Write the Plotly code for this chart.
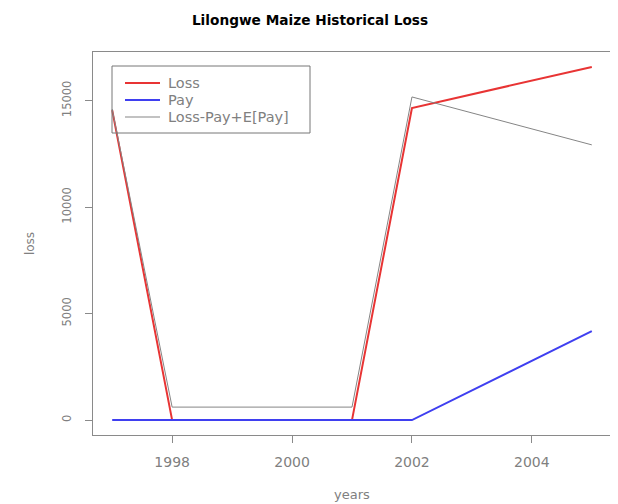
import plotly.graph_objects as go

years = [1997, 1998, 2001, 2002, 2005]
loss = [14550, 0, 0, 14650, 16580]
pay = [0, 0, 0, 0, 4180]
adj = [14600, 610, 610, 15170, 12920]

x_ticks = [1998, 2000, 2002, 2004]
y_ticks = [0, 5000, 10000, 15000]
y_tick_text = ["0", "5000", "10000", "15000"]

series_names = ["Loss", "Pay", "Loss-Pay+E[Pay]"]
series_colors = ["#e83434", "#3f3ff0", "#858585"]
series_widths = [2, 2, 1]

FONT = "DejaVu Sans"
GREY = "#808080"

# page has an 8px body margin; work in page pixels and compensate
OFF = 8
W, H = 618 - OFF, 504 - OFF
L, R, T, B = 93, 611, 52, 435  # plot area in page pixels


def px(xp):
    return (xp - L) / (R - L)


def py(yp):
    return (B - yp) / (B - T)


fig = go.Figure()
for name, vals, col, w in zip(series_names, [loss, pay, adj], series_colors, series_widths):
    fig.add_trace(go.Scatter(x=years, y=vals, mode="lines", name=name,
                             line=dict(color=col, width=w), showlegend=False))

axis_common = dict(showline=True, mirror=True, linecolor="#8a8a8a", linewidth=1,
                   ticks="outside", ticklen=7, tickcolor="#8a8a8a",
                   showgrid=False, zeroline=False, automargin=False)

shapes = [dict(type="rect", xref="paper", yref="paper",
               x0=px(112), x1=px(310), y0=py(66), y1=py(133),
               line=dict(color="#777777", width=1))]
annotations = []
legend_rows = [83, 100, 117]
for name, col, w, yy in zip(series_names, series_colors, series_widths, legend_rows):
    shapes.append(dict(type="line", xref="paper", yref="paper",
                       x0=px(125), x1=px(160), y0=py(yy), y1=py(yy),
                       line=dict(color=col, width=w)))
    annotations.append(dict(text=name, xref="paper", yref="paper",
                            x=px(166), y=py(yy), xanchor="left", yanchor="middle",
                            showarrow=False,
                            font=dict(family=FONT, size=14.5, color=GREY)))

fig.update_layout(
    width=W, height=H,
    margin=dict(l=L - OFF, r=W - (R - OFF), t=T - OFF, b=H - (B - OFF)),
    paper_bgcolor="white", plot_bgcolor="white",
    title=dict(text="<b>Lilongwe Maize Historical Loss</b>",
               x=(310 - OFF) / W, xanchor="center", xref="container",
               y=1 - (20 - OFF) / H, yanchor="middle",
               font=dict(family=FONT, size=13.7, color="black")),
    xaxis=dict(range=[1996.68, 2005.32], tickvals=x_ticks,
               ticklabelstandoff=7,
               tickfont=dict(family=FONT, size=14, color=GREY),
               title=dict(text="years", standoff=21,
                          font=dict(family=FONT, size=13, color=GREY)),
               **axis_common),
    yaxis=dict(range=[-700, 17280], tickvals=y_ticks, ticktext=y_tick_text,
               tickangle=-90, ticklabelstandoff=9,
               tickfont=dict(family=FONT, size=11.5, color=GREY),
               title=dict(text="loss", standoff=23,
                          font=dict(family=FONT, size=12, color=GREY)),
               **axis_common),
    shapes=shapes,
    annotations=annotations,
    showlegend=False,
)

fig.write_html("out.html")
